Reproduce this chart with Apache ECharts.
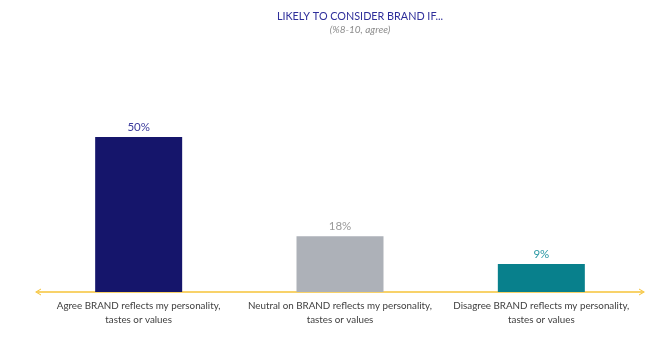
<!DOCTYPE html>
<html>
<head>
<meta charset="utf-8">
<script src="https://cdn.jsdelivr.net/npm/echarts@6/dist/echarts.min.js"></script>
<style>
  html, body { margin: 0; padding: 0; background: #ffffff; }
  #chart { width: 672px; height: 338px; }
</style>
</head>
<body>
<div id="chart"></div>
<script>
// Statements shown along the x axis
const categories = [
  'Agree BRAND reflects my personality,\ntastes or values',
  'Neutral on BRAND reflects my personality,\ntastes or values',
  'Disagree BRAND reflects my personality,\ntastes or values'
];
// Share likely to consider the brand (%)
const values = [50, 18, 9];
const barColors = ['#15156b', '#adb1b8', '#08808c'];
const labelColors = ['#3a3a9c', '#9a9a9a', '#2a98a4'];

const font = 'Lato, "Liberation Sans", sans-serif';
// open chevron pointing up; ECharts rotates it to follow the axis direction
const chevron = 'path://M0,10 L6,0 L12,10 L10,10 L6,3.4 L2,10 Z';

const chart = echarts.init(document.getElementById('chart'), null, { renderer: 'canvas' });
chart.setOption({
  animation: false,
  backgroundColor: '#ffffff',
  title: {
    text: 'LIKELY TO CONSIDER BRAND IF...',
    subtext: '(%8-10, agree)',
    left: 355,
    textAlign: 'center',
    top: 6,
    itemGap: 3,
    textStyle: { fontFamily: font, fontSize: 10.8, fontWeight: 'normal', color: '#2e2e9a' },
    subtextStyle: { fontFamily: font, fontSize: 10, fontStyle: 'italic', color: '#8c8c8c' }
  },
  grid: { left: 38, right: 30, top: 106, bottom: 46 },
  xAxis: {
    type: 'category',
    data: categories,
    axisTick: { show: false },
    axisLine: {
      show: true,
      symbol: [chevron, chevron],
      symbolSize: [9, 6],
      symbolOffset: [0, 0],
      lineStyle: { color: '#f6c338', width: 1.5 }
    },
    axisLabel: {
      interval: 0,
      hideOverlap: false,
      margin: 7,
      fontFamily: font,
      fontSize: 9.8,
      lineHeight: 14,
      color: '#404040'
    }
  },
  yAxis: {
    type: 'value',
    min: 0,
    max: 60,
    show: false,
    splitLine: { show: false }
  },
  series: [{
    type: 'bar',
    barWidth: 87,
    data: values.map((v, i) => ({
      value: v,
      itemStyle: { color: barColors[i] },
      label: { color: labelColors[i] }
    })),
    label: {
      show: true,
      position: 'top',
      distance: 4,
      fontFamily: font,
      fontSize: 11.5,
      formatter: p => p.value + '%'
    }
  }]
});
</script>
</body>
</html>
